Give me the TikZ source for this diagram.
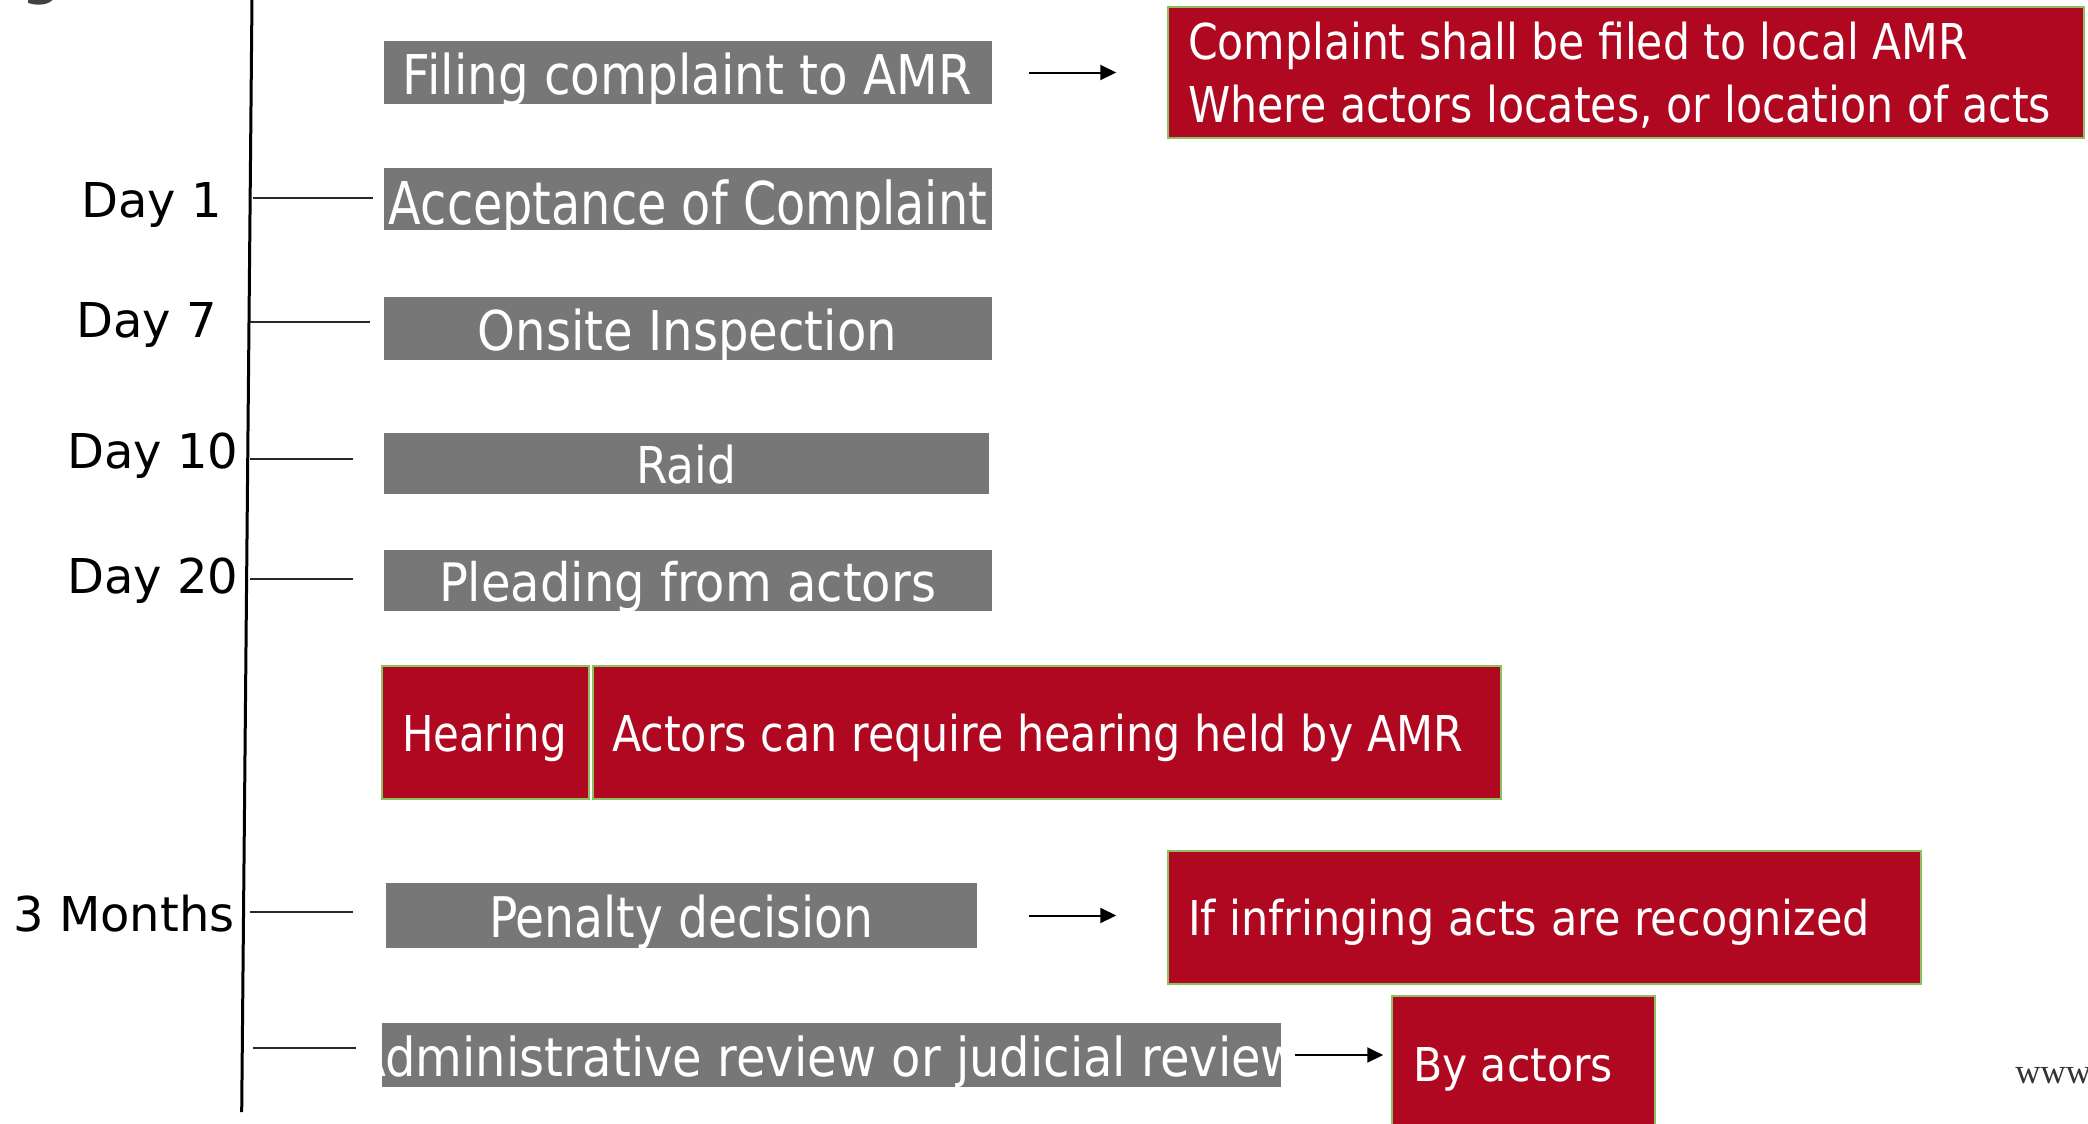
\documentclass[tikz,border=0pt]{standalone}
\usepackage{fontspec}
\usepackage{graphicx}
\setmainfont{DejaVu Sans}
\newfontfamily\wwwfont{Liberation Serif}
\usetikzlibrary{arrows.meta}
\newlength\pxu
\setlength\pxu{0.5pt}
\newcommand{\fitt}[3]{\resizebox{#1\pxu}{\height}{\fontsize{#2}{#2}\selectfont #3}}
\definecolor{boxgray}{RGB}{119,119,119}
\definecolor{boxred}{RGB}{176,8,32}
\definecolor{boxgreen}{RGB}{141,192,95}
\definecolor{tickgray}{RGB}{40,40,40}
\tikzset{
  graybox/.style={rectangle, fill=boxgray, draw=none, inner sep=0pt},
  redbox/.style={rectangle, fill=boxred, draw=boxgreen, line width=0.75pt, inner sep=0pt},
  wtext/.style={text=white, inner sep=0pt, outer sep=0pt},
  daylabel/.style={text=black, inner sep=0pt, anchor=base west, font=\fontsize{24}{24}\selectfont},
  tick/.style={draw=tickgray, line width=0.9pt},
  arr/.style={draw=black, line width=1pt, -{Triangle[length=8pt,width=7.5pt]}},
}
\begin{document}
\begin{tikzpicture}[x=0.5pt,y=-0.5pt]
\useasboundingbox (0,0) rectangle (2088,1124);
% title fragment
\node[text=black!75, inner sep=0pt, anchor=base, font=\fontsize{27}{27}\selectfont\bfseries] (titlefrag) at (42,-6) {g};
% timeline
\coordinate (ttop) at (252,-2);
\coordinate (tbot) at (241.7,1112);
\draw[line width=1.5pt, black] (ttop) -- (tbot);
% gray boxes
\node[graybox, minimum width=304.25pt, minimum height=31.5pt] (filing) at (687.75,72.5) {};
\node[graybox, minimum width=304.25pt, minimum height=31pt] (accept) at (687.75,199) {};
\node[graybox, minimum width=304.25pt, minimum height=31.5pt] (onsite) at (687.75,328.5) {};
\node[graybox, minimum width=302.75pt, minimum height=30.5pt] (raid) at (686.25,463.5) {};
\node[graybox, minimum width=304.25pt, minimum height=30.5pt] (plead) at (687.75,580.5) {};
\node[graybox, minimum width=295.5pt, minimum height=32.5pt] (penalty) at (681.5,915.5) {};
\node[graybox, minimum width=449.5pt, minimum height=32pt] (admin) at (831.5,1055) {};
% red boxes
\node[redbox, minimum width=103.5pt, minimum height=66.5pt] (hearing) at (485.5,732.5) {};
\node[redbox, minimum width=454pt, minimum height=66.5pt] (actors) at (1047,732.5) {};
\node[redbox, minimum width=458pt, minimum height=65.5pt] (where) at (1626,72.5) {};
\node[redbox, minimum width=376.5pt, minimum height=66.5pt] (infr) at (1544.5,917.5) {};
\node[redbox, minimum width=131.5pt, minimum height=72pt] (byact) at (1523.5,1068) {};
% box texts
\node[wtext, anchor=base] (filingT) at (687.5,94) {\fitt{569}{27.4}{Filing complaint to AMR}};
\node[wtext, anchor=base] (acceptT) at (688,224) {\fitt{598}{29.5}{Acceptance of Complaint}};
\node[wtext, anchor=base] (onsiteT) at (687.5,350) {\fitt{419}{27.4}{Onsite Inspection}};
\node[wtext, anchor=base] (raidT) at (686,483) {\fitt{100}{25.4}{Raid}};
\node[wtext, anchor=base] (pleadT) at (687.5,601) {\fitt{497}{26.5}{Pleading from actors}};
\node[wtext, anchor=base] (hearingT) at (484.5,751) {\fitt{165}{24.7}{Hearing}};
\node[wtext, anchor=base west] (actorsT) at (612,751) {\fitt{851}{24.7}{Actors can require hearing held by AMR}};
\node[wtext, anchor=base] (penaltyT) at (681,937) {\fitt{384}{28}{Penalty decision}};
\node[wtext, anchor=base west] (adminT) at (353,1076) {\fitt{947}{26.8}{Administrative review or judicial review}};
\node[wtext, anchor=base west] (whereT1) at (1188,60) {\fitt{780}{24.7}{Complaint shall be filed to local AMR}};
\node[wtext, anchor=base west] (whereT2) at (1188,122) {\fitt{863}{24.7}{Where actors locates, or location of acts}};
\node[wtext, anchor=base west] (infrT) at (1188,935) {\fitt{682}{24}{If infringing acts are recognized}};
\node[wtext, anchor=base west] (byactT) at (1413,1081) {\fitt{200}{23.3}{By actors}};
% day labels
\node[daylabel] (d1) at (81,217) {Day 1};
\node[daylabel] (d7) at (76,337) {Day 7};
\node[daylabel] (d10) at (67,468) {Day 10};
\node[daylabel] (d20) at (67,593) {Day 20};
\node[daylabel] (m3) at (13,931) {3 Months};
% ticks
\coordinate (k1a) at (253,198); \coordinate (k1b) at (373,198);
\coordinate (k2a) at (250,322); \coordinate (k2b) at (370,322);
\coordinate (k3a) at (250,459); \coordinate (k3b) at (353,459);
\coordinate (k4a) at (250,579); \coordinate (k4b) at (353,579);
\coordinate (k5a) at (250,912); \coordinate (k5b) at (353,912);
\coordinate (k6a) at (253,1048); \coordinate (k6b) at (356,1048);
\draw[tick] (k1a) -- (k1b);
\draw[tick] (k2a) -- (k2b);
\draw[tick] (k3a) -- (k3b);
\draw[tick] (k4a) -- (k4b);
\draw[tick] (k5a) -- (k5b);
\draw[tick] (k6a) -- (k6b);
% arrows
\draw[arr, shorten <=18.5pt, shorten >=25.5pt] (filing.east) -- (filing.east -| where.west);
\draw[arr, shorten <=26pt, shorten >=25.5pt] (penalty.east) -- (penalty.east -| infr.west);
\draw[arr, shorten <=7pt, shorten >=4pt] (admin.east) -- (admin.east -| byact.west);
% footer fragment
\node[inner sep=0pt, anchor=base west, text=black!80, font=\wwwfont\fontsize{17.5}{17.5}\selectfont] (www) at (2015,1083) {www};
\end{tikzpicture}
\end{document}
